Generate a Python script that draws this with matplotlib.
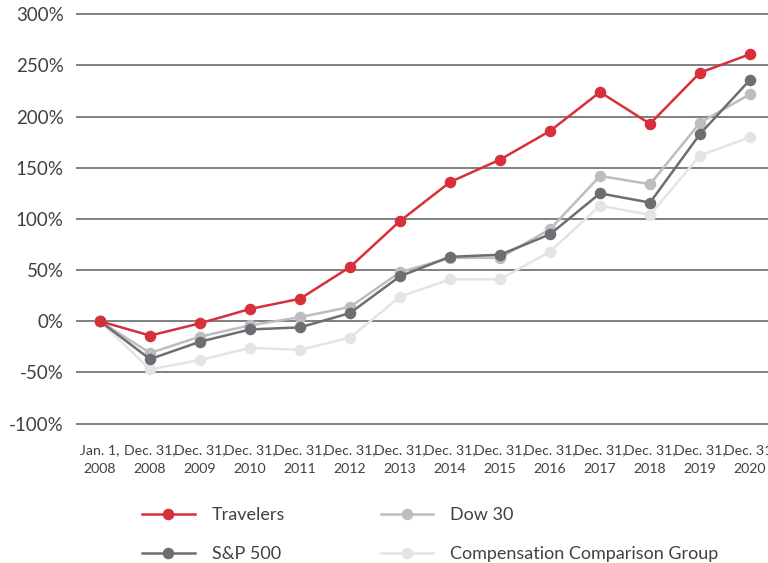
import numpy as np
import matplotlib.pyplot as plt

plt.rcParams['font.family'] = ['Lato', 'DejaVu Sans']

periods = ['Jan. 1,\n2008'] + ['Dec. 31,\n%d' % y for y in range(2008, 2021)]

travelers = [0, -14, -2, 12, 22, 53, 98, 136, 158, 186, 224, 193, 243, 261]
sp500 = [0, -37, -20, -8, -6, 8, 44, 63, 65, 85, 125, 116, 183, 236]
dow30 = [0, -31, -15, -4, 4, 14, 48, 62, 62, 90, 142, 134, 194, 222]
comp_group = [0, -47, -38, -26, -28, -16, 24, 41, 41, 68, 113, 104, 162, 180]

yticks = [-100, -50, 0, 50, 100, 150, 200, 250, 300]

fig = plt.figure(figsize=(7.68, 5.63), dpi=100)
ax = fig.add_axes([0.099, 0.2433, 0.901, 0.7356])

for v in yticks:
    ax.axhline(v, color='#808080', lw=1.4, zorder=1)

x = np.arange(len(periods))
ms = 7.3
lw = 1.8
l_comp, = ax.plot(x, comp_group, color='#e3e4e5', marker='o', ms=ms, lw=lw, zorder=2,
                  label='Compensation Comparison Group')
l_dow, = ax.plot(x, dow30, color='#bcbdc0', marker='o', ms=ms, lw=lw, zorder=3, label='Dow 30')
l_sp, = ax.plot(x, sp500, color='#6d6e71', marker='o', ms=ms, lw=lw, zorder=4, label='S&P 500')
l_trv, = ax.plot(x, travelers, color='#d7303b', marker='o', ms=ms, lw=lw, zorder=5, label='Travelers')

ax.set_xlim(-0.48, 13.36)
ax.set_ylim(-102.4, 302.4)
ax.set_yticks(yticks)
ax.set_yticklabels(['%d%%' % v for v in yticks], fontsize=13.5, color='#414042')
ax.set_xticks(x)
ax.set_xticklabels(periods, fontsize=10.2, color='#414042', linespacing=1.65)
ax.tick_params(axis='y', length=0, pad=9)
ax.tick_params(axis='x', length=0, pad=13)
for s in ax.spines.values():
    s.set_visible(False)

fig.legend([l_trv, l_sp, l_dow, l_comp],
           ['Travelers', 'S&P 500', 'Dow 30', 'Compensation Comparison Group'],
           ncol=2, loc='upper left', bbox_to_anchor=(126 / 768, 1 - 491 / 563),
           frameon=False, fontsize=13, handlelength=2.9, handletextpad=0.95,
           columnspacing=5.3, labelspacing=1.25, labelcolor='#414042')

fig.savefig('out.png', dpi=100)
